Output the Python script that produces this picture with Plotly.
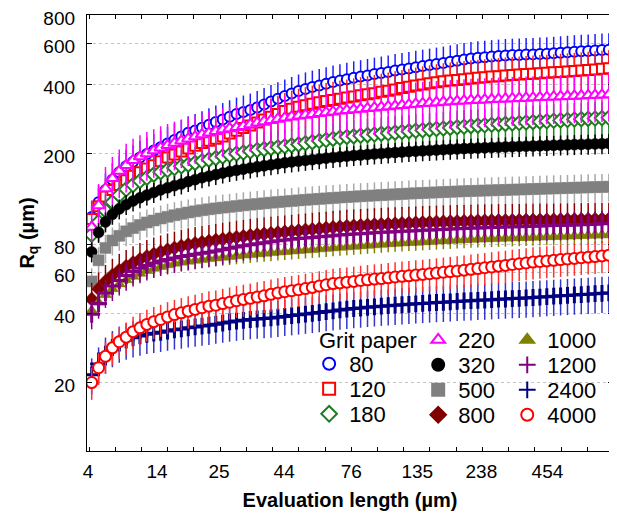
import plotly.graph_objects as go

# ---- data ----
x_tick_labels = ["4", "14", "25", "44", "76", "135", "238", "454"]
x_tick_pos = [-0.54, 9.48, 18.48, 27.91, 37.64, 47.22, 56.51, 66.09]
y_tick_vals = [20, 40, 60, 80, 200, 400, 600, 800]

grit_names = ["80", "120", "180", "220", "320", "500", "800", "1000", "1200", "2400", "4000"]

rq_80 = [105, 122, 138, 153, 165, 175, 183, 191, 198, 205, 212, 220, 228, 236,
         245, 251, 258, 266, 273, 280, 288, 296, 302, 308, 316, 326, 336, 345, 355, 364, 373, 381, 388, 394, 401, 408, 414,
         420, 426, 431, 436, 442, 447, 452, 458, 463, 468, 474, 479, 484, 489, 494, 500, 506, 512,
         517, 521, 524, 527, 530, 533, 535, 536, 538, 539, 541, 543, 545, 548, 551, 554, 556, 558, 560, 563, 565]
rq_120 = [103, 117, 129, 138, 145, 152, 159, 165, 171, 177, 184, 191, 197, 203,
          209, 215, 221, 226, 231, 236, 243, 250, 257, 264, 272, 280, 288, 296, 305, 312, 318, 323, 328, 333, 337, 341, 345,
          349, 353, 357, 361, 365, 370, 374, 379, 384, 389, 394, 398, 403, 407, 411, 414, 417, 420,
          423, 426, 428, 431, 433, 436, 438, 440, 442, 444, 446, 448, 450, 452, 454, 456, 458, 461, 463, 466, 469]
rq_180 = [88, 100, 112, 122, 131, 139, 145, 151, 156, 161, 165, 168.5, 172, 175,
          178, 181, 184, 187, 190, 193, 196, 198.5, 201, 203.5, 206, 208, 210, 212, 214, 216, 218, 220.5, 223, 225.5, 228, 230.5, 233,
          235, 236.5, 238, 239.5, 241, 242.5, 244, 245.5, 247, 248.5, 250, 251.5, 253, 254.5, 256, 257.5, 259, 260.5,
          262, 263.2, 264.4, 265.6, 266.8, 268, 269.2, 270.4, 271.6, 272.8, 274, 275.2, 276.4, 277.6, 278.8, 280, 281, 282, 283, 284, 285]
rq_220 = [95, 118, 140, 155, 167, 177, 186, 193, 199, 205, 211, 216, 221, 226,
          231, 236, 241, 245, 249, 253, 256, 259, 262, 266.5, 271, 274.5, 278, 281.5, 285, 288, 290.5, 293, 295.5, 298, 300.5, 303, 305.5,
          307.5, 309.5, 311.5, 313.5, 315.5, 317.5, 319.5, 321.5, 323.5, 325.5, 327.5, 329.5, 331, 332.5, 334, 335.5, 337, 338.5,
          340, 341, 342, 343, 344, 345, 346, 347, 348, 349, 350, 351, 352, 353, 354, 355, 356, 357, 358, 359, 360]
rq_320 = [74, 90, 100, 108, 114, 119, 123.5, 127.5, 131, 134.5, 138, 141, 144, 146.5,
          150, 153, 156, 158.5, 161, 163.5, 166, 168, 170, 172, 174, 175.8, 177.6, 179.4, 181.2, 182.8, 184.3, 185.7, 187.1, 188.5, 189.9, 191.2, 192.5,
          193.7, 194.9, 196.0, 197.1, 198.1, 199.1, 200.1, 201.0, 201.9, 202.8, 203.6, 204.4, 205.2, 206.0, 206.8, 207.6, 208.3, 209.0,
          209.6, 210.2, 210.8, 211.4, 212.0, 212.6, 213.1, 213.6, 214.1, 214.6, 215.1, 215.6, 216.1, 216.6, 217.1, 217.6, 218.1, 218.6, 219.1, 219.6, 220.1]
rq_500 = [55, 68, 77, 83, 87, 91, 94, 97, 99.5, 101.5, 103.5, 105.3, 107, 108.5,
          110, 111.3, 112.5, 113.6, 114.6, 115.5, 116.4, 117.3, 118.2, 119, 119.8, 120.6, 121.4, 122.1, 122.8, 123.5, 124.2, 124.9, 125.5, 126.1, 126.7, 127.3, 127.9,
          128.5, 129, 129.5, 130, 130.5, 131, 131.5, 132, 132.5, 133, 133.4, 133.8, 134.2, 134.6, 135, 135.4, 135.8, 136.2,
          136.5, 136.8, 137.1, 137.4, 137.7, 138, 138.3, 138.6, 138.9, 139.2, 139.5, 139.8, 140.1, 140.4, 140.7, 141, 141.3, 141.6, 141.9, 142.2, 142.5]
rq_800 = [46.0, 51.0, 55.0, 58.5, 61.5, 64.0, 66.4, 68.6, 70.6, 72.4, 74.0, 75.5, 76.9, 78.4,
          79.6, 80.6, 81.5, 82.4, 83.3, 84.1, 84.9, 85.7, 86.5, 87.3, 88.0, 88.6, 89.2, 89.8, 90.4, 91.0, 91.6, 92.2, 92.8, 93.4, 94.0, 94.6, 95.2,
          95.7, 96.1, 96.5, 96.9, 97.3, 97.6, 97.9, 98.2, 98.5, 98.8, 99.1, 99.4, 99.6, 99.8, 100.0, 100.2, 100.4, 100.6,
          100.8, 101.0, 101.1, 101.2, 101.3, 101.4, 101.5, 101.6, 101.7, 101.8, 101.9, 102.0, 102.1, 102.2, 102.3, 102.4, 102.5, 102.6, 102.7, 102.8, 102.9]
rq_1000 = [41.0, 44.5, 48.0, 51.0, 53.5, 55.8, 57.8, 59.6, 61.2, 62.6, 63.8, 64.9, 65.9, 66.6,
           67.2, 67.8, 68.4, 69.0, 69.5, 70.0, 70.5, 71.0, 71.5, 72.0, 72.5, 72.9, 73.3, 73.7, 74.1, 74.5, 74.9, 75.3, 75.7, 76.1, 76.5, 76.9, 77.3,
           77.7, 78.1, 78.5, 78.9, 79.3, 79.7, 80.1, 80.5, 80.8, 81.1, 81.4, 81.7, 82.0, 82.3, 82.6, 82.9, 83.2, 83.5,
           83.8, 84.0, 84.2, 84.4, 84.6, 84.8, 85.0, 85.2, 85.4, 85.6, 85.8, 86.0, 86.2, 86.4, 86.6, 86.8, 87.0, 87.2, 87.4, 87.6, 87.8]
rq_1200 = [39.5, 44, 49, 52.5, 55.5, 58.3, 60.8, 62.8, 64.6, 66.2, 67.5, 68.6, 69.6, 70.6,
           71.4, 72.2, 73.0, 73.8, 74.7, 75.7, 76.7, 77.7, 78.7, 79.6, 80.4, 81.2, 82.0, 82.8, 83.5, 84.1, 84.6, 85.1, 85.6, 86.1, 86.6, 87.1, 87.6,
           88.1, 88.5, 88.9, 89.3, 89.7, 90.1, 90.4, 90.7, 91.0, 91.3, 91.6, 91.9, 92.2, 92.5, 92.8, 93.1, 93.4, 93.7,
           94.0, 94.2, 94.4, 94.6, 94.8, 95.0, 95.2, 95.4, 95.6, 95.8, 96.0, 96.2, 96.4, 96.6, 96.8, 97.0, 97.2, 97.5, 97.8, 98.1, 98.4]
rq_2400 = [21.5, 24.0, 26.5, 28.3, 29.6, 30.5, 31.2, 31.8, 32.3, 32.7, 33.0, 33.4, 33.8, 34.1, 34.5, 34.8, 35.1, 35.4, 35.8, 36.2, 36.6,
           36.9, 37.2, 37.5, 37.7, 37.9, 38.1, 38.4, 38.7, 39.0, 39.3, 39.6, 39.9, 40.2, 40.6, 40.9, 41.3,
           41.6, 41.9, 42.1, 42.4, 42.6, 42.9, 43.1, 43.3, 43.5, 43.7, 43.9, 44.1, 44.3, 44.5, 44.6, 44.8, 45.0, 45.2,
           45.3, 45.5, 45.6, 45.8, 46.0, 46.1, 46.3, 46.4, 46.6, 46.8, 47.0, 47.2, 47.4, 47.6, 47.8, 48.0, 48.2, 48.4, 48.6, 48.8, 49.0]
rq_4000 = [19.9, 23.1, 25.9, 28.2, 30.0, 31.4, 33.2, 34.5, 35.7, 36.7, 37.5, 38.5, 39.4, 40.1, 40.8, 41.5, 42.2, 42.9, 43.3, 44.0, 44.6,
           45.3, 45.9, 46.4, 47.0, 47.6, 48.3, 49.0, 49.6, 50.1, 50.6, 51.2, 51.8, 52.5, 53.2, 53.8,
           54.2, 54.6, 55.0, 55.5, 55.9, 56.3, 56.6, 57.0, 57.5, 57.9, 58.2, 58.6, 59.0, 59.4, 59.8, 60.3, 60.7, 61.1, 61.6,
           62.1, 62.6, 63.1, 63.6, 64.1, 64.6, 65.2, 65.7, 66.2, 66.8,
           67.2, 67.6, 68.0, 68.5, 68.9, 69.3, 69.8, 70.2, 70.6, 71.1, 71.6]

# relative error (percent) of each series, read from whisker lengths
err_pct = [18, 20, 18, 24, 10, 14, 18, 8, 14, 18, 16]

series = [rq_80, rq_120, rq_180, rq_220, rq_320, rq_500, rq_800, rq_1000, rq_1200, rq_2400, rq_4000]

# ---- styles ----
styles = [
    dict(symbol="circle", color="white", line="#0000ff", size=10, err="#2020ff"),
    dict(symbol="square", color="white", line="#ff0000", size=10, err="#ff2020"),
    dict(symbol="diamond", color="white", line="#1e7d1e", size=11, err="#1e7d1e"),
    dict(symbol="triangle-up", color="white", line="#ff00ff", size=11, err="#ff00ff"),
    dict(symbol="circle", color="#000000", line="#000000", size=11, err="#000000"),
    dict(symbol="square", color="#808080", line="#808080", size=11, err="#a8a8a8"),
    dict(symbol="diamond", color="#800000", line="#800000", size=11, err="#8b0000"),
    dict(symbol="triangle-up", color="#808000", line="#808000", size=11, err="#808000"),
    dict(symbol="cross-thin", color="#800080", line="#800080", size=12, err="#800080"),
    dict(symbol="cross-thin", color="#000080", line="#000080", size=12, err="#3535c8"),
    dict(symbol="circle", color="white", line="#ff0000", size=11, err="#ff3030"),
]

# legend layout in page pixels: (column left x, row centre y) for each grit
leg_col_px = [309, 309, 309, 418, 418, 418, 418, 507, 507, 507, 507]
leg_row_px = [364, 389, 414, 340, 365, 390, 415, 340, 365, 390, 415]

FONT = "Liberation Sans, Arial, sans-serif"
OFF = 8                                     # page offset of the plot div (body margin)
PX0, PX1, PY0, PY1 = 87, 612.7, 15, 451     # plot area in page pixels
W, H = 617 - OFF, 515 - OFF

fig = go.Figure()
legends = {}
for k, (name, vals, pct, st) in enumerate(zip(grit_names, series, err_pct, styles)):
    hollow = st["color"] == "white"
    thin = st["symbol"].endswith("thin")
    lname = "legend" if k == 0 else f"legend{k + 1}"
    fig.add_trace(go.Scatter(
        x=list(range(len(vals))), y=vals, name=name, mode="markers",
        legend=lname,
        marker=dict(symbol=st["symbol"], size=st["size"], color=st["color"],
                    line=dict(color=st["line"], width=3 if thin else (2.0 if hollow else 0.5))),
        error_y=dict(type="percent", value=pct, color=st["err"], thickness=1.5, width=0),
    ))
    legends[lname] = dict(
        bgcolor="rgba(0,0,0,0)", font=dict(family=FONT, size=22, color="black"),
        itemsizing="constant", orientation="v", xanchor="left", yanchor="middle",
        x=(leg_col_px[k] - PX0) / (PX1 - PX0),
        y=(PY1 - leg_row_px[k]) / (PY1 - PY0),
    )

fig.update_layout(
    width=W, height=H,
    margin=dict(l=PX0 - OFF, r=617 - PX1, t=PY0 - OFF, b=515 - PY1, autoexpand=False),
    plot_bgcolor="white", paper_bgcolor="white",
    font=dict(family=FONT, color="black"),
    showlegend=True,
    **legends,
    xaxis=dict(range=[-0.68, 75.6], tickmode="array", tickvals=x_tick_pos, ticktext=x_tick_labels,
               ticks="", showgrid=False, zeroline=False, showline=True, linecolor="black",
               linewidth=1.3, mirror="ticks", tickfont=dict(size=19), ticklabelstandoff=3,
               automargin=False,
               minor=dict(ticks="inside", tick0=-0.39, dtick=3.803, ticklen=4,
                          tickcolor="black", showgrid=False),
               title=dict(text="Evaluation length (µm)", font=dict(size=20, weight="bold"), standoff=12)),
    yaxis=dict(type="log", range=[1, 2.9035], tickmode="array", tickvals=y_tick_vals,
               ticktext=[str(v) for v in y_tick_vals], ticks="inside", ticklen=5,
               tickcolor="black", showline=True, linecolor="black", linewidth=1.3, mirror="ticks",
               showgrid=True, gridcolor="#c4c4c4", griddash="dot", gridwidth=1, zeroline=False,
               tickfont=dict(size=19), ticklabelstandoff=7, automargin=False,
               ticklabeloverflow="allow", ticklabelshift=3,
               title=dict(text="R<sub>q</sub> (µm)", font=dict(size=20, weight="bold"), standoff=3)),
    annotations=[dict(text="Grit paper", xref="paper", yref="paper", showarrow=False,
                      x=(317 - PX0) / (PX1 - PX0), y=(PY1 - 340) / (PY1 - PY0),
                      xanchor="left", yanchor="middle", font=dict(family=FONT, size=22))],
)

fig.write_html("out.html")
